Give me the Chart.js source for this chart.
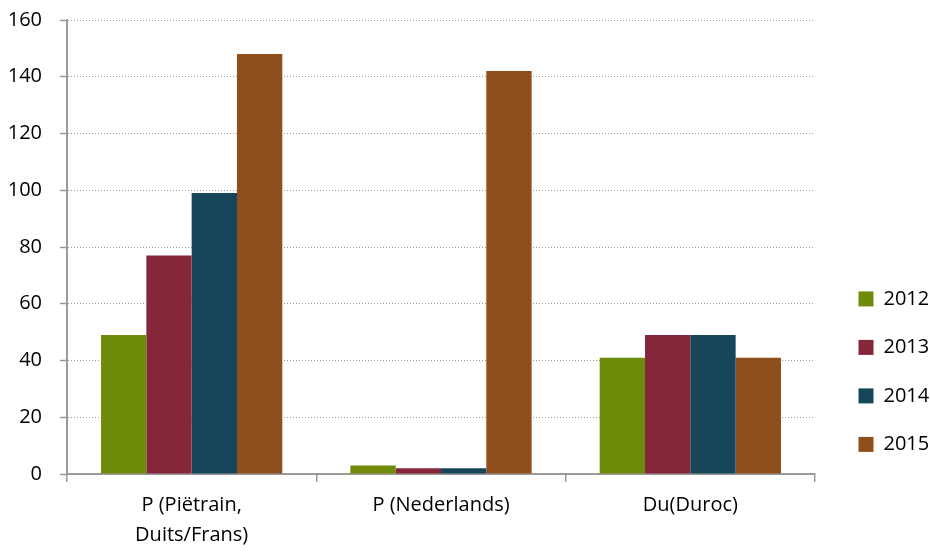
<!DOCTYPE html>
<html lang="nl">
<head>
  <meta charset="UTF-8">
  <title>Beren per ras</title>
  <script src="https://cdn.jsdelivr.net/npm/chart.js"></script>
  <style>
    html, body { margin: 0; padding: 0; background: #fff; }
    .chart-wrap { width: 930px; height: 554px; position: relative; }
  </style>
</head>
<body>
  <div class="chart-wrap">
    <canvas id="rasChart"></canvas>
  </div>

  <script>
    // Rassen (x-as) en aantallen per jaar
    const categories = [['P (Piëtrain,', 'Duits/Frans)'], 'P (Nederlands)', 'Du(Duroc)'];
    const years = ['2012', '2013', '2014', '2015'];
    const values2012 = [49, 3, 41];
    const values2013 = [77, 2, 49];
    const values2014 = [99, 2, 49];
    const values2015 = [148, 142, 41];
    const yTicks = [0, 20, 40, 60, 80, 100, 120, 140, 160];

    const colors = ['#6e8b0a', '#86263b', '#17465b', '#8f4f1d'];
    const grey = '#9a9a9a';
    const fontFamily = '"Open Sans", "Noto Sans", sans-serif';

    const series = [values2012, values2013, values2014, values2015];

    new Chart(document.getElementById('rasChart'), {
      type: 'bar',
      data: {
        labels: categories,
        datasets: series.map((vals, i) => ({
          label: years[i],
          data: vals,
          backgroundColor: colors[i],
          borderWidth: 0,
          barPercentage: 1,
          categoryPercentage: 0.727
        }))
      },
      options: {
        responsive: true,
        maintainAspectRatio: false,
        animation: false,
        layout: { padding: 0 },
        plugins: {
          tooltip: { enabled: false },
          legend: {
            position: 'right',
            align: 'start',
            maxWidth: 100,
            title: { display: true, text: '', padding: { top: 246, bottom: 0 } },
            labels: {
              boxWidth: 15,
              boxHeight: 15,
              padding: 28.5,
              color: '#000',
              font: { family: fontFamily, size: 20 }
            }
          }
        },
        scales: {
          x: {
            offset: true,
            afterFit: s => { s.height = 80; },
            grid: {
              display: true,
              drawOnChartArea: false,
              tickLength: 8,
              color: grey,
              lineWidth: 1.5
            },
            border: { color: grey, width: 2 },
            ticks: {
              color: '#000',
              padding: 8,
              maxRotation: 0,
              font: { family: fontFamily, size: 20, lineHeight: 1.5 }
            }
          },
          y: {
            min: 0,
            max: 160,
            afterFit: s => { s.width = 67; s.paddingTop = 20; },
            afterBuildTicks: s => { s.ticks = yTicks.map(v => ({ value: v })); },
            grid: {
              color: grey,
              lineWidth: 1,
              tickLength: 7,
              tickColor: grey,
              tickWidth: 1.5,
              tickBorderDash: []
            },
            // dash geldt in v4 voor de rasterlijnen, niet voor de aslijn
            border: { color: grey, width: 2, dash: [1, 2] },
            ticks: {
              color: '#000',
              padding: 18,
              font: { family: fontFamily, size: 20 }
            }
          },
          // lege ruimte tussen plotgebied en legenda
          gap: {
            type: 'linear',
            position: 'right',
            display: true,
            afterFit: s => { s.width = 15; },
            grid: { display: false },
            border: { display: false },
            ticks: { display: false }
          }
        }
      }
    });
  </script>
</body>
</html>
